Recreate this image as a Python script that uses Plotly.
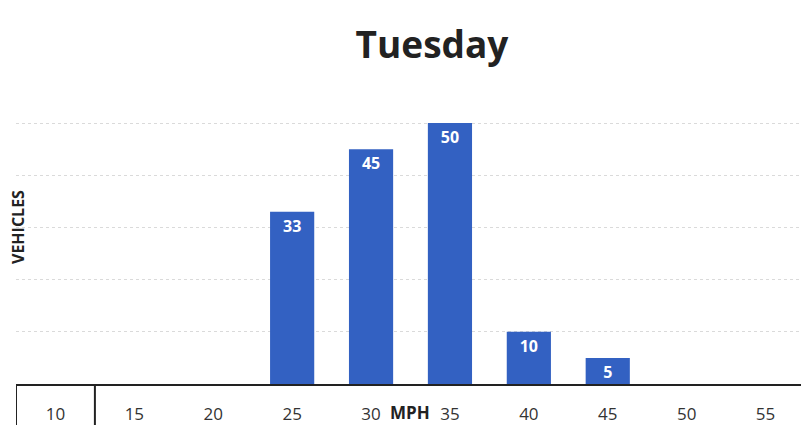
import plotly.graph_objects as go

speeds = ["10", "15", "20", "25", "30", "35", "40", "45", "50", "55"]
vehicles = [0, 0, 0, 33, 45, 50, 10, 5, 0, 0]
labels = ["" if v == 0 else str(v) for v in vehicles]

fig = go.Figure(go.Bar(
    x=speeds, y=vehicles, text=labels,
    textposition="inside", insidetextanchor="end", textangle=0, constraintext="none",
    textfont=dict(family="Open Sans", size=16, color="white", weight="bold"),
    marker=dict(color="#3361C2", line=dict(width=0)),
    width=0.56, cliponaxis=False,
))

fig.update_layout(
    width=809, height=434,
    margin=dict(l=8, r=12, t=89, b=58),
    paper_bgcolor="white", plot_bgcolor="white",
    title=dict(text="<b>Tuesday</b>", x=424/809, xanchor="center", y=1 - 37/434, yanchor="middle",
               font=dict(family="Open Sans", size=37, color="#222")),
    showlegend=False,
    uniformtext=dict(minsize=12, mode="show"),
)
fig.update_xaxes(
    type="category", showline=True, linecolor="#222", linewidth=2,
    showgrid=False, ticks="", ticklabelstandoff=14,
    tickfont=dict(family="Open Sans", size=17, color="#333"),
    range=[-0.5, 9.5],
)
fig.update_yaxes(
    range=[0, 55], dtick=10, showticklabels=False, showline=False,
    showgrid=True, gridcolor="#dadada", griddash="dot", gridwidth=1, zeroline=False,
)
for xv in [-0.5, 0.5]:
    fig.add_shape(type="line", xref="x", yref="paper", x0=xv, x1=xv, y0=0, y1=-41/287,
                  line=dict(color="#222", width=2))
fig.add_annotation(text="<b>VEHICLES</b>", xref="paper", yref="paper", x=(18-16)/789, y=(384-227)/287,
                   textangle=-90, showarrow=False, xanchor="center", yanchor="middle",
                   font=dict(family="Open Sans", size=16, color="#222"))
fig.add_annotation(text="<b>MPH</b>", xref="paper", yref="paper", x=(410-16)/789, y=-28/287,
                   showarrow=False, xanchor="center", yanchor="middle",
                   font=dict(family="Open Sans", size=17, color="#222"))
fig.write_html("out.html")
